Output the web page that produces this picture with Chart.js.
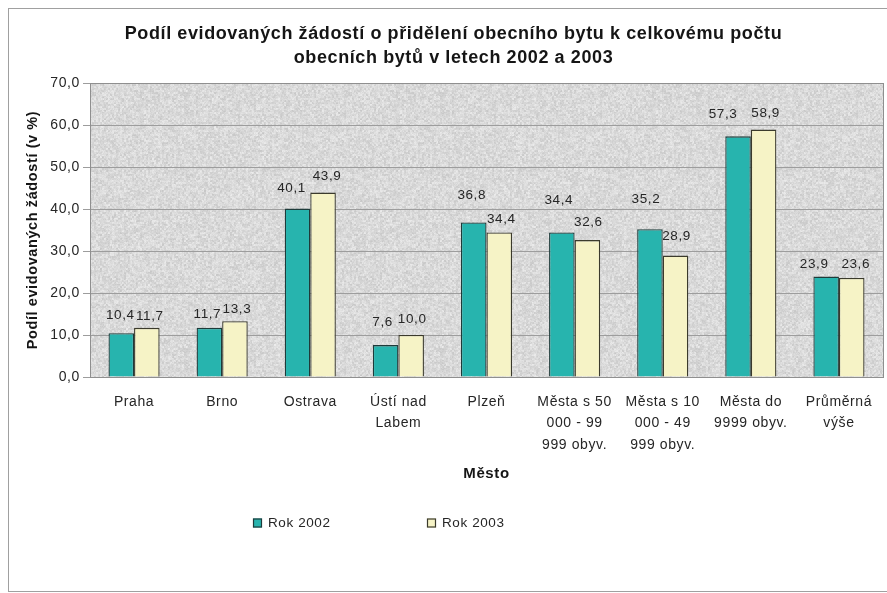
<!DOCTYPE html>
<html>
<head>
<meta charset="utf-8">
<script src="https://cdn.jsdelivr.net/npm/chart.js@4"></script>
<style>
  html, body { margin: 0; padding: 0; background: #fff; }
  canvas { display: block; }
</style>
</head>
<body>
<canvas id="chart" width="887" height="593"></canvas>
<script>
// Categories (multi-line tick labels)
const categories = [
  ["Praha"],
  ["Brno"],
  ["Ostrava"],
  ["Ústí nad", "Labem"],
  ["Plzeň"],
  ["Města s 50", "000 - 99", "999 obyv."],
  ["Města s 10", "000 - 49", "999 obyv."],
  ["Města do", "9999 obyv."],
  ["Průměrná", "výše"]
];

// Share of registered applications (%)
const rok2002 = [10.4, 11.7, 40.1, 7.6, 36.8, 34.4, 35.2, 57.3, 23.9];
const rok2003 = [11.7, 13.3, 43.9, 10.0, 34.4, 32.6, 28.9, 58.9, 23.6];

const seriesNames = ["Rok 2002", "Rok 2003"];
const yTicks = [0, 10, 20, 30, 40, 50, 60, 70];

const chartTitle = [
  "Podíl evidovaných žádostí o přidělení obecního bytu k celkovému počtu",
  "obecních bytů v letech 2002 a 2003"
];
const xTitle = "Město";
const yTitle = "Podíl evidovaných žádostí (v %)";

const fmt = v => v.toFixed(1).replace(".", ",");

// deterministic hash for the granite plot fill
function hash(x, y) {
  let n = Math.imul(x, 374761393) + Math.imul(y, 668265263);
  n = Math.imul(n ^ (n >>> 13), 1274126177);
  return ((n ^ (n >>> 16)) >>> 0) / 4294967295;
}
function granitePattern(ctx) {
  const size = 256;
  const t = document.createElement("canvas");
  t.width = t.height = size;
  const g = t.getContext("2d");
  const img = g.createImageData(size, size);
  for (let y = 0; y < size; y++) {
    for (let x = 0; x < size; x++) {
      const a = hash(x >> 1, y >> 1);
      const b = hash(x + 911, y + 37);
      const v = Math.round(217 + (a - 0.5) * 24 + (b - 0.5) * 14);
      const i = (y * size + x) * 4;
      img.data[i] = v; img.data[i + 1] = v; img.data[i + 2] = v; img.data[i + 3] = 255;
    }
  }
  g.putImageData(img, 0, 0);
  return ctx.createPattern(t, "repeat");
}

const SPACING = "0.6px";
const letterSpacing = {
  id: "letterSpacing",
  beforeUpdate(c) { c.ctx.letterSpacing = SPACING; },
  beforeLayout(c) { c.ctx.letterSpacing = SPACING; },
  beforeDraw(c) { c.ctx.letterSpacing = SPACING; }
};

let fill = null;
const backdrop = {
  id: "backdrop",
  beforeDraw(c) {
    const { ctx, chartArea: a } = c;
    ctx.save();
    ctx.fillStyle = "#fff";
    ctx.fillRect(0, 0, c.width, c.height);
    // outer frame
    ctx.strokeStyle = "#a0a0a0";
    ctx.lineWidth = 1;
    ctx.strokeRect(8.5, 8.5, c.width + 10, c.height - 10);
    // plot area fill
    if (!fill) fill = granitePattern(ctx);
    ctx.fillStyle = fill;
    ctx.fillRect(a.left, a.top, a.right - a.left, a.bottom - a.top);
    ctx.restore();
  },
  beforeDatasetsDraw(c) {
    const { ctx, chartArea: a } = c;
    ctx.save();
    ctx.strokeStyle = "#8f8f8f";
    ctx.lineWidth = 1;
    ctx.strokeRect(Math.round(a.left) + 0.5, Math.round(a.top) + 0.5,
      Math.round(a.right - a.left), Math.round(a.bottom - a.top));
    ctx.restore();
  }
};

// value labels above the bars
const valueLabels = {
  id: "valueLabels",
  afterDatasetsDraw(c, args, opts) {
    const { ctx } = c;
    ctx.save();
    ctx.font = opts.font;
    ctx.fillStyle = opts.color;
    ctx.textAlign = "center";
    ctx.textBaseline = "middle";
    c.data.datasets.forEach((ds, di) => {
      const meta = c.getDatasetMeta(di);
      meta.data.forEach((bar, i) => {
        const lift = opts.lift[di][i];
        const dx = opts.dx[di][i];
        ctx.fillText(fmt(ds.data[i]), bar.x + dx, bar.y - lift);
      });
    });
    ctx.restore();
  }
};

// legend row under the axis title
const legendRow = {
  id: "legendRow",
  afterDraw(c, args, opts) {
    const { ctx } = c;
    ctx.save();
    ctx.font = opts.font;
    ctx.textBaseline = "middle";
    ctx.textAlign = "left";
    c.data.datasets.forEach((ds, i) => {
      const x = opts.left + i * opts.step;
      const y = opts.y;
      ctx.fillStyle = ds.backgroundColor;
      ctx.fillRect(x, y - opts.box / 2, opts.box, opts.box);
      ctx.strokeStyle = ds.borderColor;
      ctx.lineWidth = 1.2;
      ctx.strokeRect(x + 0.5, y - opts.box / 2 + 0.5, opts.box - 1, opts.box - 1);
      ctx.fillStyle = opts.color;
      ctx.fillText(ds.label, x + opts.box + opts.gap, y);
    });
    ctx.restore();
  }
};

Chart.defaults.font.family = '"Liberation Sans", Arial, sans-serif';
Chart.defaults.color = "#262626";

new Chart(document.getElementById("chart"), {
  type: "bar",
  data: {
    labels: categories,
    datasets: [
      {
        label: seriesNames[0],
        data: rok2002,
        backgroundColor: "#27b4ae",
        borderColor: "#1e3b3a",
        borderWidth: 1.3
      },
      {
        label: seriesNames[1],
        data: rok2003,
        backgroundColor: "#f6f3c6",
        borderColor: "#3b3a2c",
        borderWidth: 1.3
      }
    ]
  },
  options: {
    responsive: false,
    devicePixelRatio: 1,
    animation: false,
    categoryPercentage: 0.58,
    barPercentage: 1,
    layout: { padding: { top: 0, left: 24, right: 4, bottom: 110 } },
    plugins: {
      legend: { display: false },
      tooltip: { enabled: false },
      title: {
        display: true,
        text: chartTitle,
        color: "#151515",
        font: { size: 18, weight: "bold", lineHeight: "24px" },
        padding: { top: 22, bottom: 13 }
      },
      valueLabels: {
        font: '13.5px "Liberation Sans", Arial, sans-serif',
        color: "#262626",
        lift: [
          [18, 14, 20, 23, 27, 32, 30, 22, 12],
          [12, 12, 16, 16, 13, 18, 19, 16, 14]
        ],
        dx: [
          [-1, -2, -6, -3, -2, -3, -4, -15, -12],
          [3, 2, 4, 1, 2, 1, 1, 2, 4]
        ]
      },
      legendRow: {
        font: '13.5px "Liberation Sans", Arial, sans-serif',
        color: "#262626",
        left: 253,
        step: 174,
        y: 523,
        box: 9,
        gap: 6
      }
    },
    scales: {
      x: {
        grid: { display: false, drawTicks: false },
        border: { display: true, color: "#8f8f8f" },
        ticks: {
          font: { size: 14, lineHeight: "21.5px" },
          padding: 14,
          maxRotation: 0,
          autoSkip: false
        },
        title: {
          display: true,
          text: xTitle,
          color: "#151515",
          font: { size: 15, weight: "bold" },
          padding: { top: 0, bottom: 0 }
        },
        afterFit(s) { s.height = 106; }
      },
      y: {
        min: 0,
        max: 70,
        afterBuildTicks(s) { s.ticks = yTicks.map(v => ({ value: v })); },
        ticks: {
          callback: v => fmt(v),
          font: { size: 14 },
          padding: 3
        },
        grid: { color: "#9d9d9d", tickLength: 7, drawTicks: true, lineWidth: 1 },
        border: { display: false },
        title: {
          display: true,
          text: yTitle,
          color: "#151515",
          font: { size: 14.5, weight: "bold" },
          padding: { top: 0, bottom: 0 }
        },
        afterFit(s) { s.width = 66; }
      }
    }
  },
  plugins: [letterSpacing, backdrop, valueLabels, legendRow]
});
</script>
</body>
</html>
